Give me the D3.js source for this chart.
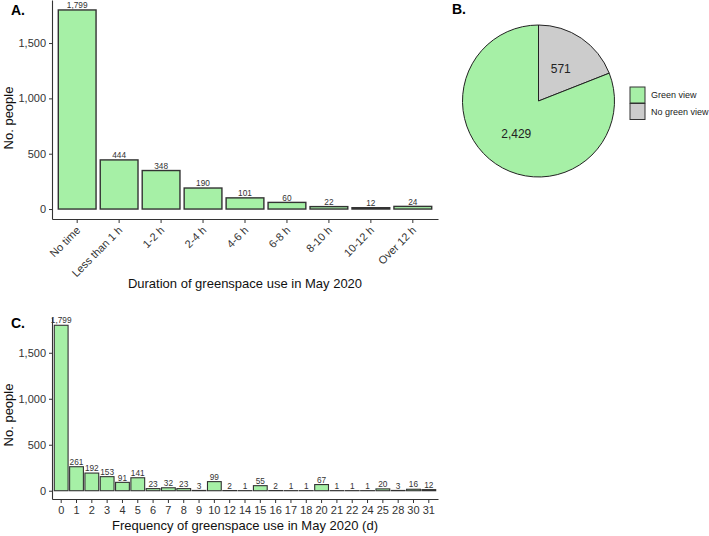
<!DOCTYPE html>
<html><head><meta charset="utf-8">
<script src="https://cdn.jsdelivr.net/npm/d3@7"></script>
<style>
body{margin:0;background:#fff;}
svg{display:block;font-family:"Liberation Sans",Arial,sans-serif;}
</style></head>
<body><svg id="c" width="709" height="536"></svg>
<script>
// Panel A data
const durationCats = ["No time","Less than 1 h","1-2 h","2-4 h","4-6 h","6-8 h","8-10 h","10-12 h","Over 12 h"];
const durationVals = [1799,444,348,190,101,60,22,12,24];
// Panel B data
const viewCats = ["Green view","No green view"];
const viewVals = [2429,571];
// Panel C data
const freqCats = ["0","1","2","3","4","5","6","7","8","9","10","12","14","15","16","17","18","20","21","22","24","25","28","30","31"];
const freqVals = [1799,261,192,153,91,141,23,32,23,3,99,2,1,55,2,1,1,67,1,1,1,20,3,16,12];
const yTicks = [0,500,1000,1500];

const GREEN = "#a6f0a6", GREY = "#cccccc", STROKE = "#333333";
const svg = d3.select("#c");
const fmt = d3.format(",");

function barPanel(opt){
  const g = svg.append("g");
  const x = d3.scaleBand().domain(opt.cats).range([opt.x0, opt.x1]).paddingInner(0.1).paddingOuter(0.15);
  const maxV = d3.max(opt.vals), ex = maxV*0.05;
  const y = d3.scaleLinear().domain([-ex, maxV+ex]).range([opt.y1, opt.y0]);
  g.selectAll("rect").data(opt.vals).join("rect")
    .attr("x",(d,i)=>x(opt.cats[i])).attr("width",x.bandwidth())
    .attr("y",d=>y(d)).attr("height",d=>y(0)-y(d))
    .attr("fill",GREEN).attr("stroke",STROKE).attr("stroke-width",opt.sw);
  g.selectAll("text.v").data(opt.vals).join("text").attr("class","v")
    .attr("x",(d,i)=>x(opt.cats[i])+x.bandwidth()/2).attr("y",d=>y(d)-1.8)
    .attr("text-anchor","middle").attr("font-size",8.3).attr("fill","#333")
    .text(d=>fmt(d));
  // y axis
  const ya = g.append("g").attr("transform",`translate(${opt.x0},0)`)
    .call(d3.axisLeft(y).tickValues(yTicks).tickFormat(fmt).tickSize(3).tickPadding(3).tickSizeOuter(0));
  ya.select(".domain").attr("stroke","#333").attr("stroke-width",1.1);
  ya.selectAll(".tick line").attr("stroke","#333");
  ya.selectAll(".tick text").attr("font-size",11).attr("fill","#333").attr("font-family","Liberation Sans, Arial, sans-serif");
  // x axis
  const xa = g.append("g").attr("transform",`translate(0,${opt.y1})`)
    .call(d3.axisBottom(x).tickSize(4).tickPadding(3).tickSizeOuter(0));
  xa.select(".domain").attr("stroke","#333").attr("stroke-width",1.1);
  xa.selectAll(".tick line").attr("stroke","#333");
  xa.selectAll(".tick text").attr("font-size",11).attr("fill","#333").attr("font-family","Liberation Sans, Arial, sans-serif");
  if(opt.rotate){
    xa.selectAll(".tick text").attr("text-anchor","end").attr("dy",null).attr("y",0)
      .attr("transform","translate(4,12) rotate(-45)");
  }
  // titles
  g.append("text").attr("x",(opt.x0+opt.x1)/2).attr("y",opt.xtY).attr("text-anchor","middle")
    .attr("font-size",13).attr("fill","#111").text(opt.xTitle);
  g.append("text").attr("transform",`translate(13,${opt.ytY}) rotate(-90)`).attr("text-anchor","middle")
    .attr("font-size",13).attr("fill","#111").text("No. people");
  g.append("text").attr("x",11).attr("y",opt.labY).attr("font-size",14).attr("font-weight","bold").text(opt.label);
}

barPanel({cats:durationCats, vals:durationVals, x0:52, x1:438, y0:0, y1:219, sw:1.4, rotate:true,
  xTitle:"Duration of greenspace use in May 2020", xtY:288, ytY:118, label:"A.", labY:15});
barPanel({cats:freqCats, vals:freqVals, x0:52, x1:438, y0:317, y1:499, sw:1.1, rotate:false,
  xTitle:"Frequency of greenspace use in May 2020 (d)", xtY:530, ytY:415, label:"C.", labY:328});

// Panel B pie
const cx = 538.5, cy = 101, r = 76;
const pieG = svg.append("g").attr("transform",`translate(${cx},${cy})`);
const pieData = d3.pie().sort(null).value(d=>d.v)(viewCats.map((c,i)=>({c, v:viewVals[i]})).reverse());
const color = d3.scaleOrdinal().domain(viewCats).range([GREEN, GREY]);
const arc = d3.arc().innerRadius(0).outerRadius(r);
pieG.selectAll("path").data(pieData).join("path").attr("d",arc)
  .attr("fill",d=>color(d.data.c)).attr("stroke","#222").attr("stroke-width",1);
const lab = d3.arc().innerRadius(r*0.52).outerRadius(r*0.52);
pieG.selectAll("text").data(pieData).join("text")
  .attr("transform",d=>{const [a,b]=lab.centroid(d);return `translate(${a},${b})`;})
  .attr("text-anchor","middle").attr("dy","0.35em").attr("font-size",12).attr("fill","#222")
  .text(d=>fmt(d.data.v));
svg.append("text").attr("x",452).attr("y",14).attr("font-size",14).attr("font-weight","bold").text("B.");
const leg = svg.append("g");
viewCats.forEach((c,i)=>{
  leg.append("rect").attr("x",630).attr("y",87+i*16.5).attr("width",15).attr("height",16)
    .attr("fill",color(c)).attr("stroke","#333").attr("stroke-width",1);
  leg.append("text").attr("x",651).attr("y",95+i*16.5).attr("dy","0.35em").attr("font-size",9).attr("fill","#222").text(c);
});
</script></body></html>
